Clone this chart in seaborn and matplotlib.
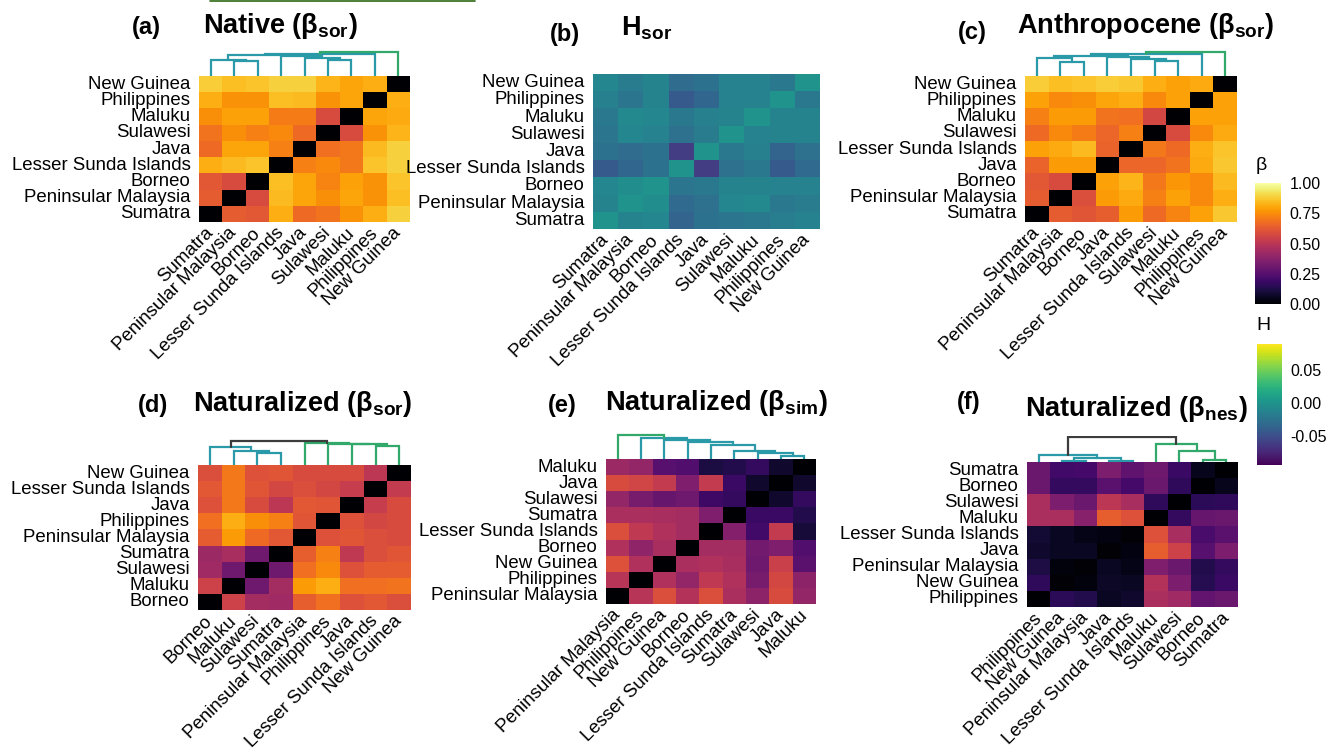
import numpy as np
import pandas as pd
import seaborn as sns
import matplotlib.pyplot as plt
from matplotlib.ticker import FormatStrFormatter

sns.set_style("white")
plt.rcParams['font.family'] = ['Liberation Sans', 'DejaVu Sans']
plt.rcParams['mathtext.fontset'] = 'custom'
plt.rcParams['mathtext.bf'] = 'Liberation Sans:bold'
plt.rcParams['mathtext.rm'] = 'Liberation Sans'
plt.rcParams['axes.unicode_minus'] = False
plt.rcParams['text.color'] = 'black'
plt.rcParams['xtick.color'] = 'black'
plt.rcParams['ytick.color'] = 'black'

# column orders (left to right); rows are the same order, bottom to top
order_a = ["Sumatra", "Peninsular Malaysia", "Borneo", "Lesser Sunda Islands", "Java",
           "Sulawesi", "Maluku", "Philippines", "New Guinea"]
order_c = ["Sumatra", "Peninsular Malaysia", "Borneo", "Java", "Lesser Sunda Islands",
           "Sulawesi", "Maluku", "Philippines", "New Guinea"]
order_d = ["Borneo", "Maluku", "Sulawesi", "Sumatra", "Peninsular Malaysia",
           "Philippines", "Java", "Lesser Sunda Islands", "New Guinea"]
order_e = ["Peninsular Malaysia", "Philippines", "New Guinea", "Borneo", "Lesser Sunda Islands",
           "Sumatra", "Sulawesi", "Java", "Maluku"]
order_f = ["Philippines", "New Guinea", "Peninsular Malaysia", "Java", "Lesser Sunda Islands",
           "Maluku", "Sulawesi", "Borneo", "Sumatra"]

# matrices, rows listed top to bottom
native_sor = [
    [0.88, 0.85, 0.86, 0.89, 0.89, 0.83, 0.80, 0.82, 0.00],
    [0.82, 0.76, 0.76, 0.85, 0.84, 0.76, 0.80, 0.00, 0.82],
    [0.75, 0.79, 0.79, 0.71, 0.71, 0.58, 0.00, 0.80, 0.81],
    [0.69, 0.75, 0.72, 0.74, 0.67, 0.00, 0.58, 0.76, 0.83],
    [0.67, 0.80, 0.80, 0.72, 0.00, 0.68, 0.70, 0.84, 0.89],
    [0.82, 0.84, 0.86, 0.00, 0.72, 0.74, 0.70, 0.86, 0.89],
    [0.62, 0.58, 0.00, 0.85, 0.80, 0.73, 0.79, 0.76, 0.86],
    [0.63, 0.00, 0.58, 0.84, 0.80, 0.75, 0.80, 0.76, 0.85],
    [0.00, 0.63, 0.62, 0.82, 0.67, 0.69, 0.76, 0.82, 0.89],
]
h_sor = [
    [-0.010, -0.019, -0.012, -0.030, -0.025, -0.014, -0.014, -0.021, 0.000],
    [-0.015, -0.023, -0.012, -0.043, -0.034, -0.014, -0.014, 0.000, -0.021],
    [-0.021, -0.008, -0.010, -0.021, -0.015, -0.012, 0.000, -0.012, -0.012],
    [-0.023, -0.010, -0.014, -0.027, -0.019, 0.000, -0.014, -0.012, -0.012],
    [-0.025, -0.030, -0.025, -0.062, 0.000, -0.021, -0.015, -0.036, -0.027],
    [-0.043, -0.034, -0.025, 0.000, -0.062, -0.027, -0.021, -0.043, -0.032],
    [-0.010, -0.004, 0.000, -0.023, -0.021, -0.012, -0.012, -0.014, -0.014],
    [-0.012, 0.000, -0.004, -0.032, -0.027, -0.010, -0.008, -0.021, -0.019],
    [0.000, -0.012, -0.010, -0.036, -0.025, -0.023, -0.021, -0.017, -0.014],
]
anthro_sor = [
    [0.88, 0.85, 0.86, 0.88, 0.87, 0.82, 0.79, 0.81, 0.00],
    [0.79, 0.74, 0.75, 0.80, 0.82, 0.74, 0.79, 0.00, 0.79],
    [0.72, 0.78, 0.78, 0.69, 0.68, 0.57, 0.00, 0.79, 0.79],
    [0.67, 0.74, 0.71, 0.66, 0.72, 0.00, 0.58, 0.74, 0.81],
    [0.79, 0.81, 0.84, 0.65, 0.00, 0.70, 0.67, 0.82, 0.86],
    [0.65, 0.78, 0.78, 0.00, 0.66, 0.66, 0.69, 0.81, 0.87],
    [0.62, 0.58, 0.00, 0.79, 0.83, 0.70, 0.77, 0.74, 0.84],
    [0.63, 0.00, 0.59, 0.78, 0.81, 0.72, 0.79, 0.74, 0.82],
    [0.00, 0.63, 0.61, 0.64, 0.78, 0.67, 0.73, 0.79, 0.87],
]
nat_sor = [
    [0.59, 0.70, 0.60, 0.61, 0.58, 0.58, 0.58, 0.50, 0.00],
    [0.62, 0.70, 0.61, 0.57, 0.59, 0.57, 0.53, 0.00, 0.52],
    [0.60, 0.70, 0.58, 0.50, 0.62, 0.61, 0.00, 0.53, 0.58],
    [0.68, 0.82, 0.75, 0.72, 0.61, 0.00, 0.60, 0.57, 0.58],
    [0.63, 0.78, 0.67, 0.62, 0.00, 0.60, 0.61, 0.59, 0.58],
    [0.42, 0.45, 0.31, 0.00, 0.64, 0.72, 0.51, 0.59, 0.61],
    [0.43, 0.31, 0.00, 0.31, 0.68, 0.74, 0.60, 0.63, 0.63],
    [0.55, 0.00, 0.31, 0.44, 0.78, 0.82, 0.68, 0.68, 0.69],
    [0.00, 0.55, 0.44, 0.43, 0.64, 0.68, 0.60, 0.62, 0.59],
]
nat_sim = [
    [0.42, 0.40, 0.25, 0.24, 0.11, 0.13, 0.17, 0.08, 0.00],
    [0.58, 0.56, 0.52, 0.35, 0.52, 0.18, 0.08, 0.00, 0.08],
    [0.40, 0.33, 0.29, 0.31, 0.19, 0.17, 0.00, 0.08, 0.17],
    [0.46, 0.46, 0.45, 0.44, 0.35, 0.00, 0.18, 0.18, 0.13],
    [0.59, 0.51, 0.47, 0.44, 0.00, 0.36, 0.20, 0.52, 0.10],
    [0.47, 0.39, 0.45, 0.00, 0.44, 0.44, 0.32, 0.35, 0.24],
    [0.60, 0.47, 0.00, 0.46, 0.47, 0.45, 0.31, 0.54, 0.26],
    [0.49, 0.00, 0.47, 0.40, 0.51, 0.47, 0.33, 0.57, 0.38],
    [0.00, 0.49, 0.59, 0.48, 0.59, 0.46, 0.38, 0.58, 0.40],
]
nat_nes = [
    [0.30, 0.20, 0.21, 0.34, 0.27, 0.31, 0.18, 0.05, 0.00],
    [0.30, 0.17, 0.17, 0.26, 0.21, 0.30, 0.16, 0.00, 0.05],
    [0.46, 0.34, 0.30, 0.50, 0.45, 0.16, 0.00, 0.15, 0.16],
    [0.46, 0.46, 0.37, 0.64, 0.60, 0.00, 0.17, 0.29, 0.30],
    [0.09, 0.06, 0.04, 0.03, 0.01, 0.60, 0.45, 0.22, 0.26],
    [0.08, 0.06, 0.06, 0.01, 0.03, 0.64, 0.55, 0.25, 0.34],
    [0.12, 0.02, 0.01, 0.06, 0.04, 0.35, 0.30, 0.13, 0.17],
    [0.16, 0.01, 0.02, 0.07, 0.06, 0.48, 0.34, 0.14, 0.18],
    [0.00, 0.15, 0.13, 0.06, 0.08, 0.46, 0.43, 0.28, 0.30],
]

# dendrogram merges: (child, child, height); leaves 0-8, merged clusters 9+
dend_a = [(1, 2, 45), (0, 9, 49), (5, 6, 47), (4, 11, 55), (3, 12, 60), (10, 13, 63), (14, 7, 66), (15, 8, 71)]
dend_c = [(1, 2, 43), (0, 9, 53), (5, 6, 45), (4, 11, 50), (3, 12, 56), (10, 13, 60), (14, 7, 65), (15, 8, 71)]
dend_d = [(2, 3, 35), (1, 9, 43), (0, 10, 53), (7, 8, 57), (6, 12, 62), (5, 13, 64), (4, 14, 66), (11, 15, 73)]
dend_e = [(7, 8, 10), (6, 9, 17), (5, 10, 25), (4, 11, 42), (3, 12, 50), (2, 13, 58), (1, 14, 64), (0, 15, 72)]
dend_f = [(1, 2, 2), (3, 4, 4), (9, 10, 11), (0, 11, 21), (7, 8, 5), (6, 13, 32), (5, 14, 55), (12, 15, 75)]

TEAL, GREEN, DARK = "#2a9aa8", "#33a86b", "#3c3c3c"
col_a = [TEAL] * 7 + [GREEN]
col_c = [TEAL] * 7 + [GREEN]
col_d = [TEAL] * 3 + [GREEN] * 4 + [DARK]
col_e = [TEAL] * 7 + [GREEN]
col_f = [TEAL] * 4 + [GREEN] * 3 + [DARK]

W, H = 1327, 750
fig = plt.figure(figsize=(W / 100, H / 100), dpi=100)


def px_axes(x, y, w, h):
    return fig.add_axes([x / W, 1 - (y + h) / H, w / W, h / H])


def draw_dendro(rect, merges, colors):
    x, y, w, h = rect
    ax = px_axes(x, y - 26, w, 26)
    pos = {i: i + 0.5 for i in range(9)}
    hgt = {i: 0 for i in range(9)}
    for k, (a, b, d) in enumerate(merges):
        c = colors[k]
        ax.plot([pos[a], pos[a], pos[b], pos[b]], [hgt[a], d, d, hgt[b]], color=c, lw=1.6,
                solid_joinstyle='miter')
        pos[9 + k] = (pos[a] + pos[b]) / 2
        hgt[9 + k] = d
    ax.set_xlim(0, 9)
    ax.set_ylim(0, 78)
    ax.axis('off')


def draw_heat(rect, mat, order, cmap, vmin, vmax, cax=None):
    ax = px_axes(*rect)
    df = pd.DataFrame(mat, index=order[::-1], columns=order)
    sns.heatmap(df, ax=ax, cmap=cmap, vmin=vmin, vmax=vmax, cbar=cax is not None, cbar_ax=cax)
    ax.tick_params(length=0, labelsize=13.4)
    ax.set_xticklabels(ax.get_xticklabels(), rotation=45, ha='right', va='center',
                       rotation_mode='anchor')
    ax.set_yticklabels(ax.get_yticklabels(), rotation=0)
    ax.tick_params(axis='x', pad=6)
    ax.tick_params(axis='y', pad=6)
    ax.set_xlabel('')
    ax.set_ylabel('')
    return ax


cax_b = px_axes(1255, 183, 26, 121)
cax_h = px_axes(1257, 344, 25, 121)

rect_a = (199, 76, 211, 146)
rect_b = (593, 74, 227, 155)
rect_c = (1025, 76, 212, 146)
rect_d = (198, 465, 213, 145)
rect_e = (606, 459, 210, 145)
rect_f = (1027, 462, 211, 145)

draw_heat(rect_a, native_sor, order_a, 'inferno', 0, 1)
draw_heat(rect_b, h_sor, order_a, 'viridis', -0.095, 0.09, cax=cax_h)
draw_heat(rect_c, anthro_sor, order_c, 'inferno', 0, 1, cax=cax_b)
draw_heat(rect_d, nat_sor, order_d, 'inferno', 0, 1)
draw_heat(rect_e, nat_sim, order_e, 'inferno', 0, 1)
draw_heat(rect_f, nat_nes, order_f, 'inferno', 0, 1)

draw_dendro(rect_a, dend_a, col_a)
draw_dendro(rect_c, dend_c, col_c)
draw_dendro(rect_d, dend_d, col_d)
draw_dendro(rect_e, dend_e, col_e)
draw_dendro(rect_f, dend_f, col_f)

# colourbars
for cax, ticks in [(cax_b, [0, 0.25, 0.5, 0.75, 1.0]), (cax_h, [-0.05, 0.0, 0.05])]:
    cax.set_yticks(ticks)
    cax.yaxis.set_major_formatter(FormatStrFormatter('%.2f'))
    cax.tick_params(axis='y', direction='in', length=4, width=1, color='white',
                    left=True, right=True, labelleft=False, labelright=True,
                    labelsize=11.5, labelcolor='black', pad=6)
    for s in cax.spines.values():
        s.set_visible(False)
fig.text(1256 / W, 1 - 166 / H, "β", fontsize=14, ha='left', va='center')
fig.text(1256 / W, 1 - 326 / H, "H", fontsize=14, ha='left', va='center')

# panel titles
titles = [
    (132, 34, "(a)", 203, 33, r"Native (β$_{\mathbf{sor}}$)"),
    (550, 41, "(b)", 621, 35, r"H$_{\mathbf{sor}}$"),
    (958, 39, "(c)", 1017, 33, r"Anthropocene (β$_{\mathbf{sor}}$)"),
    (138, 412, "(d)", 193, 411, r"Naturalized (β$_{\mathbf{sor}}$)"),
    (548, 412, "(e)", 605, 410, r"Naturalized (β$_{\mathbf{sim}}$)"),
    (957, 409, "(f)", 1025, 416, r"Naturalized (β$_{\mathbf{nes}}$)"),
]
for lx, ly, lab, tx, ty, txt in titles:
    fig.text(lx / W, 1 - ly / H, lab, fontsize=17, fontweight='bold', ha='left', va='baseline')
    fig.text(tx / W, 1 - ty / H, txt, fontsize=19.5, fontweight='bold', ha='left', va='baseline')

fig.add_artist(plt.Line2D([210 / W, 475 / W], [1 - 0.8 / H, 1 - 0.8 / H], color="#2e6b12", lw=1.2))

fig.savefig("out.png", dpi=100)
